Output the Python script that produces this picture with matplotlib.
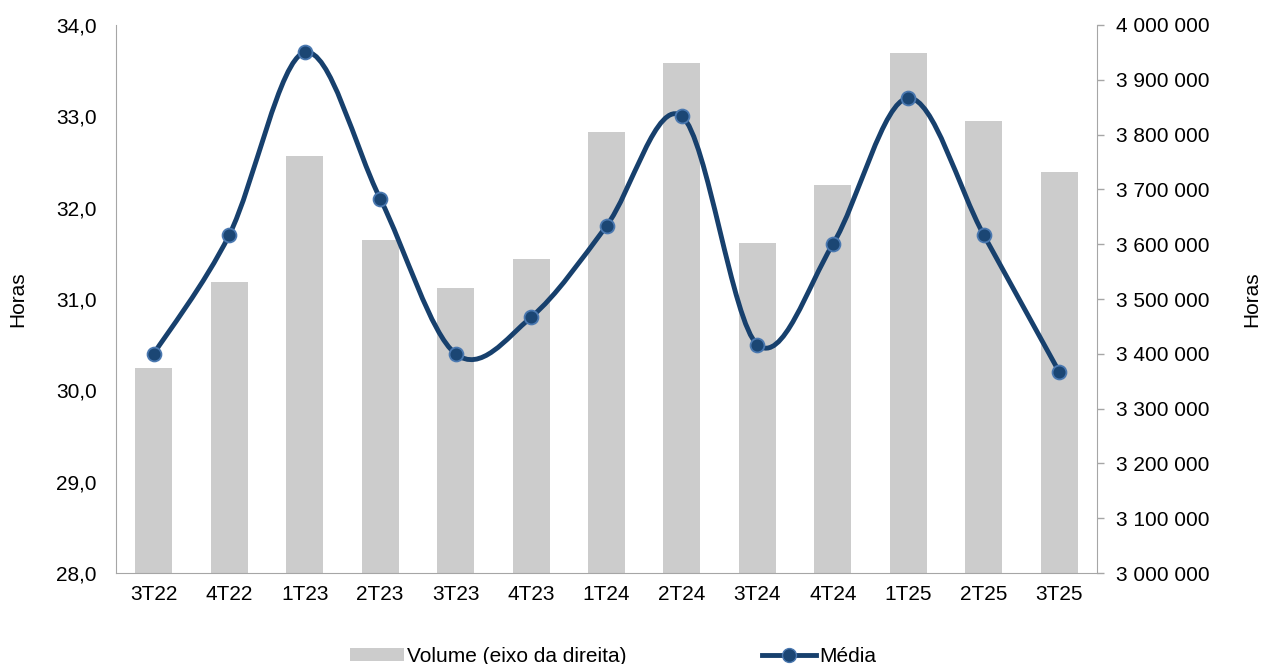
import matplotlib
matplotlib.use("Agg")
import matplotlib.pyplot as plt
from matplotlib.path import Path
from matplotlib.patches import PathPatch, Patch
from matplotlib.lines import Line2D
from matplotlib.ticker import FuncFormatter, MultipleLocator

plt.rcParams['font.family'] = ['Liberation Sans', 'DejaVu Sans']

quarters = ["3T22", "4T22", "1T23", "2T23", "3T23", "4T23", "1T24",
            "2T24", "3T24", "4T24", "1T25", "2T25", "3T25"]
volume = [3374000, 3531000, 3761000, 3608000, 3520000, 3573000, 3805000,
          3931000, 3602000, 3708000, 3949000, 3825000, 3732000]
media = [30.4, 31.7, 33.7, 32.1, 30.4, 30.8, 31.8, 33.0, 30.5, 31.6, 33.2, 31.7, 30.2]

BAR_COLOR = "#CCCCCC"
LINE_COLOR = "#17406D"
SPINE_COLOR = "#A6A6A6"
FS = 15

W, H = 1262, 664
fig = plt.figure(figsize=(W / 100, H / 100), dpi=100)
left, right, top, bottom = 116, 1097, 25, 573
ax = fig.add_axes([left / W, (H - bottom) / H, (right - left) / W, (bottom - top) / H])
ax2 = ax.twinx()

x = list(range(len(quarters)))

# bars on right axis
ax2.bar(x, volume, width=0.49, color=BAR_COLOR, zorder=1)
ax2.set_ylim(3000000, 4000000)
ax2.yaxis.set_major_locator(MultipleLocator(100000))
ax2.yaxis.set_major_formatter(FuncFormatter(lambda v, p: "{:,.0f}".format(v).replace(",", " ")))
ax2.tick_params(axis='y', length=5, width=1, color=SPINE_COLOR, pad=9, labelsize=FS)

# smoothed line on left axis (Catmull-Rom style bezier like Excel)
ax.set_zorder(ax2.get_zorder() + 1)
ax.patch.set_visible(False)
pts = list(zip(x, media))
verts = [pts[0]]
codes = [Path.MOVETO]
n = len(pts)
for i in range(n - 1):
    p0 = pts[i - 1] if i > 0 else pts[i]
    p1 = pts[i]
    p2 = pts[i + 1]
    p3 = pts[i + 2] if i + 2 < n else pts[i + 1]
    c1 = (p1[0] + (p2[0] - p0[0]) / 6, p1[1] + (p2[1] - p0[1]) / 6)
    c2 = (p2[0] - (p3[0] - p1[0]) / 6, p2[1] - (p3[1] - p1[1]) / 6)
    verts += [c1, c2, p2]
    codes += [Path.CURVE4] * 3
ax.add_patch(PathPatch(Path(verts, codes), facecolor='none', edgecolor=LINE_COLOR,
                       lw=3.5, capstyle='round', zorder=3))
ax.plot(x, media, linestyle='none', marker='o', markersize=10,
        markerfacecolor="#1B4674", markeredgecolor="#4A78B0", markeredgewidth=1.3, zorder=4)

ax.set_xlim(-0.5, len(quarters) - 0.5)
ax.set_ylim(28, 34)
ax.yaxis.set_major_locator(MultipleLocator(1))
ax.yaxis.set_major_formatter(FuncFormatter(lambda v, p: "{:.1f}".format(v).replace(".", ",")))
ax.tick_params(axis='y', length=0, pad=14, labelsize=FS)
ax.set_xticks(x)
ax.set_xticklabels(quarters)
ax.tick_params(axis='x', length=0, pad=9, labelsize=FS)

for a in (ax, ax2):
    for s in a.spines.values():
        s.set_visible(False)
ax.spines['left'].set_visible(True)
ax.spines['left'].set_color(SPINE_COLOR)
ax.spines['bottom'].set_visible(True)
ax.spines['bottom'].set_color(SPINE_COLOR)
ax2.spines['right'].set_visible(True)
ax2.spines['right'].set_color(SPINE_COLOR)

fig.text(18 / W, 0.55, "Horas", rotation=90, ha='center', va='center', fontsize=FS)
fig.text(1252 / W, 0.55, "Horas", rotation=90, ha='center', va='center', fontsize=FS)

handles = [Patch(facecolor=BAR_COLOR, edgecolor='none'),
           Line2D([], [], color=LINE_COLOR, lw=3.5, marker='o', markersize=10,
                  markerfacecolor="#1B4674", markeredgecolor="#4A78B0")]
fig.legend(handles, ["Volume (eixo da direita)", "Média"], loc='center',
           bbox_to_anchor=(0.486, 8 / H), ncol=2, frameon=False, fontsize=FS,
           handlelength=2.6, handleheight=0.6, handletextpad=0.15, columnspacing=6.5)

fig.savefig("out.png", dpi=100)
